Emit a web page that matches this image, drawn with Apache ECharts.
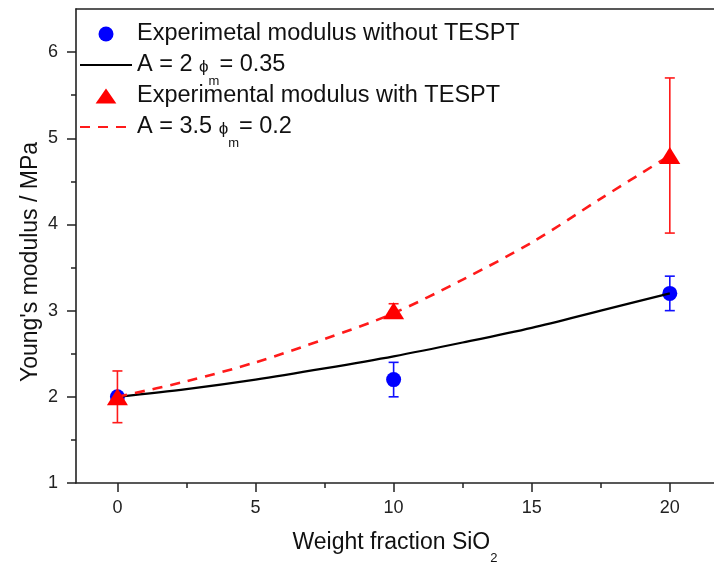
<!DOCTYPE html>
<html>
<head>
<meta charset="UTF-8">
<title>Young's modulus vs SiO2</title>
<script src="https://cdn.jsdelivr.net/npm/echarts@6/dist/echarts.min.js"></script>
<style>
html,body{margin:0;padding:0;background:#fff;}
#chart{width:714px;height:563px;}
</style>
</head>
<body>
<div id="chart"></div>
<script type="text/javascript">
// values
var curveX = [0, 2.5, 5, 7.5, 10, 12.5, 15, 17.5, 20];
var fitNoTespt = [2.00, 2.09, 2.20, 2.33, 2.47, 2.63, 2.80, 3.00, 3.20];
var fitTespt = [2.00, 2.18, 2.40, 2.67, 2.97, 3.36, 3.79, 4.30, 4.80];

var expX = [0, 10, 20];
var expNoTespt = [2.0, 2.2, 3.2];
var errNoTespt = [0.05, 0.2, 0.2];
var expTespt = [2.0, 3.0, 4.8];
var errTespt = [0.3, 0.08, 0.9];

var fitA = ['2', '3.5'];
var fitPhi = ['0.35', '0.2'];
var expNames = ['Experimetal modulus without TESPT', 'Experimental modulus with TESPT'];

var xTicks = [0, 5, 10, 15, 20];
var xMinor = [2.5, 7.5, 12.5, 17.5];
var yTicks = [1, 2, 3, 4, 5, 6];
var yMinor = [1.5, 2.5, 3.5, 4.5, 5.5];

var FONT = "'Liberation Sans', Arial, sans-serif";
var fitNames = [0, 1].map(function(i){ return 'A = ' + fitA[i] + ' ϕm= ' + fitPhi[i]; });

function pairs(xs, ys){
	var out = [];
	for (var i = 0; i < xs.length; i++) out.push([xs[i], ys[i]]);
	return out;
}
function errData(ys, es){
	var out = [];
	for (var i = 0; i < expX.length; i++) out.push([expX[i], ys[i] - es[i], ys[i] + es[i]]);
	return out;
}
function errBars(color){
	return function(params, api){
		var x = api.value(0);
		var lo = api.coord([x, api.value(1)]);
		var hi = api.coord([x, api.value(2)]);
		var st = {stroke: color, lineWidth: 1.6};
		return {type: 'group', children: [
			{type: 'line', shape: {x1: lo[0], y1: lo[1], x2: hi[0], y2: hi[1]}, style: st},
			{type: 'line', shape: {x1: lo[0] - 5, y1: lo[1], x2: lo[0] + 5, y2: lo[1]}, style: st},
			{type: 'line', shape: {x1: hi[0] - 5, y1: hi[1], x2: hi[0] + 5, y2: hi[1]}, style: st}
		]};
	};
}

var axisCol = '#222';
var noDot = {color: 'rgba(0,0,0,0)', borderWidth: 0};
var mychart = echarts.init(document.getElementById('chart'));
var option = {
	backgroundColor: '#fff',
	animation: false,
	textStyle: {fontFamily: FONT},
	grid: {left: 76, top: 9, right: 0, bottom: 80, outerBoundsMode: 'none'},
	legend: {
		orient: 'vertical',
		left: 79,
		top: 22,
		padding: 0,
		itemWidth: 52,
		itemHeight: 15,
		itemGap: -4,
		data: [
			{name: expNames[0], icon: 'circle'},
			{name: fitNames[0], itemStyle: noDot},
			{name: expNames[1], icon: 'path://M0,13L9,0L18,13Z'},
			{name: fitNames[1], itemStyle: noDot}
		],
		formatter: function(name){
			var i = fitNames.indexOf(name);
			if (i < 0) return '{t|' + name + '}';
			return '{t|A = ' + fitA[i] + ' }{p|ϕ}{s|m}{t|= ' + fitPhi[i] + '}';
		},
		textStyle: {
			color: '#111',
			rich: {
				t: {fontSize: 23.5, lineHeight: 26, fontFamily: FONT, color: '#111'},
				p: {fontSize: 17, fontFamily: FONT, color: '#111', padding: [4, 0, 0, 0]},
				s: {fontSize: 13, lineHeight: 14, fontFamily: FONT, color: '#111', padding: [33, 0, 0, 0]}
			}
		}
	},
	xAxis: [{
		type: 'value', min: -1.5, max: 21.6, position: 'bottom',
		name: '{t|Weight fraction SiO}{s|2}',
		nameLocation: 'middle',
		nameGap: 47,
		nameMoveOverlap: false,
		nameTextStyle: {
			rich: {
				t: {fontSize: 23, lineHeight: 26, fontFamily: FONT, color: '#111'},
				s: {fontSize: 13, lineHeight: 14, fontFamily: FONT, color: '#111', padding: [30, 0, 0, 0]}
			}
		},
		axisLine: {onZero: false, lineStyle: {color: axisCol, width: 1.6}},
		axisTick: {show: true, length: 9, inside: false, customValues: xTicks, lineStyle: {color: axisCol, width: 1.5}},
		axisLabel: {customValues: xTicks, fontSize: 18, color: '#222', margin: 16, fontFamily: FONT},
		splitLine: {show: false}
	}, {
		type: 'value', min: -1.5, max: 21.6, position: 'bottom',
		axisLine: {show: false, onZero: false},
		axisTick: {show: true, length: 5, customValues: xMinor, lineStyle: {color: axisCol, width: 1.5}},
		axisLabel: {show: false},
		splitLine: {show: false}
	}, {
		type: 'value', min: -1.5, max: 21.6, position: 'top',
		axisLine: {onZero: false, lineStyle: {color: axisCol, width: 1.6}},
		axisTick: {show: false},
		axisLabel: {show: false},
		splitLine: {show: false}
	}],
	yAxis: [{
		type: 'value', min: 1, max: 6.5, position: 'left',
		name: "Young's modulus / MPa",
		nameLocation: 'middle',
		nameGap: 34,
		nameMoveOverlap: false,
		nameTextStyle: {fontSize: 23, color: '#111', fontFamily: FONT, padding: [0, 32, 0, 0]},
		axisLine: {onZero: false, lineStyle: {color: axisCol, width: 1.6}},
		axisTick: {show: true, length: 9, customValues: yTicks, lineStyle: {color: axisCol, width: 1.5}},
		axisLabel: {customValues: yTicks, fontSize: 18, color: '#222', margin: 18, fontFamily: FONT},
		splitLine: {show: false}
	}, {
		type: 'value', min: 1, max: 6.5, position: 'left',
		axisLine: {show: false, onZero: false},
		axisTick: {show: true, length: 5, customValues: yMinor, lineStyle: {color: axisCol, width: 1.5}},
		axisLabel: {show: false},
		splitLine: {show: false}
	}],
	series: [{
		name: 'errNo', type: 'custom', z: 1,
		renderItem: errBars('#1010ff'),
		data: errData(expNoTespt, errNoTespt)
	}, {
		name: expNames[0], type: 'scatter', z: 2,
		symbol: 'circle', symbolSize: 15,
		itemStyle: {color: '#0000ff', opacity: 1},
		data: pairs(expX, expNoTespt)
	}, {
		name: fitNames[0], type: 'line', z: 3,
		symbol: 'none', smooth: 0.3,
		lineStyle: {color: '#000', width: 2.2},
		itemStyle: {color: '#000'},
		data: pairs(curveX, fitNoTespt)
	}, {
		name: 'errWith', type: 'custom', z: 4,
		renderItem: errBars('#ff1a1a'),
		data: errData(expTespt, errTespt)
	}, {
		name: fitNames[1], type: 'line', z: 4,
		symbol: 'none', smooth: 0.3,
		lineStyle: {color: '#ff1a1a', width: 2.6, type: [10, 8]},
		itemStyle: {color: '#ff1a1a'},
		data: pairs(curveX, fitTespt)
	}, {
		name: expNames[1], type: 'scatter', z: 5,
		symbol: 'triangle', symbolSize: [21, 17],
		itemStyle: {color: '#ff0000', opacity: 1},
		data: pairs(expX, expTespt)
	}]
};
mychart.setOption(option);
</script>
</body>
</html>
